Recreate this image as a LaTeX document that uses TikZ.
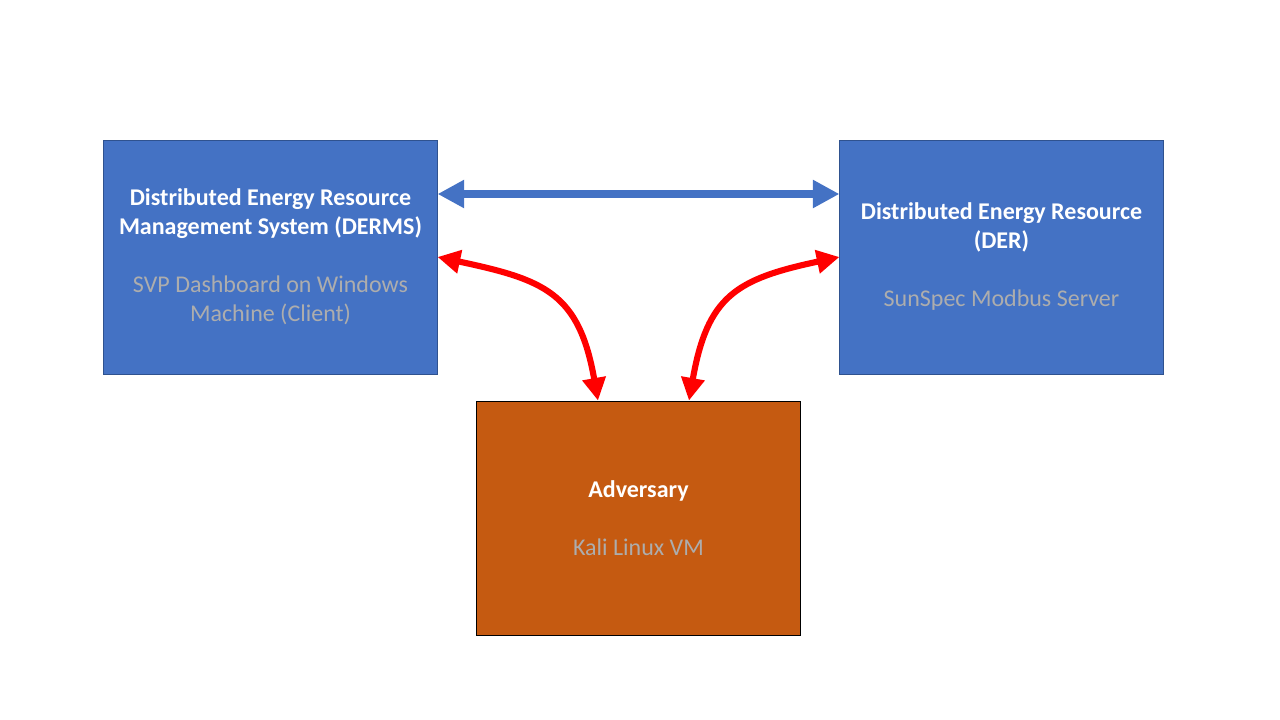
\documentclass[tikz,border=0pt]{standalone}
\usepackage{fontspec}
\setmainfont{Carlito}
\usepackage{tikz}
\usetikzlibrary{arrows.meta}
\usetikzlibrary{calc}

\definecolor{boxblue}{HTML}{4472C4}
\definecolor{boxedge}{HTML}{2F528F}
\definecolor{advorange}{HTML}{C55A11}
\definecolor{subgray}{HTML}{ADADAD}

\begin{document}
\begin{tikzpicture}[x=0.75pt,y=0.75pt,
        sysbox/.style={rectangle, fill=boxblue, draw=boxedge, line width=0.6pt, minimum height=175.5pt, align=center, font=\fontsize{18}{21.75}\selectfont, text=white, inner sep=0pt},
        advbox/.style={sysbox, fill=advorange, draw=black},
        linkblue/.style={draw=boxblue, line width=6pt, {Triangle[length=20pt,width=20pt]}-{Triangle[length=20pt,width=20pt]}},
        linkred/.style={draw=red, line width=4.6pt, {Triangle[length=17pt,width=17pt]}-{Triangle[length=17pt,width=17pt]}}]
        \useasboundingbox (0, 0) rectangle (1280, -720);
        \node[sysbox, minimum width=250pt] (derms) at (270.5, -257) {\textbf{Distributed Energy Resource}\\ \textbf{Management System (DERMS)}\\[21.75pt] \textcolor{subgray}{SVP Dashboard on Windows}\\ \textcolor{subgray}{Machine (Client)}};
        \node[sysbox, minimum width=242.5pt] (der) at (1001.5, -257) {\textbf{Distributed Energy Resource}\\ \textbf{(DER)}\\[21.75pt] \textcolor{subgray}{SunSpec Modbus Server}};
        \node[advbox, minimum width=242.5pt] (adv) at (638.5, -518) {\textbf{Adversary}\\[21.75pt] \textcolor{subgray}{Kali Linux VM}};
        %
        \draw[linkblue] ($(derms.east)+(0, 63)$) -- ($(der.west)+(0, 63)$);
        \draw[linkred] (derms.east) to[out=-12, in=100, looseness=1.3] ($(adv.north)+(-40.5, 0)$);
        \draw[linkred] (der.west) to[out=192, in=80, looseness=1.3] ($(adv.north)+(50.5, 0)$);
\end{tikzpicture}
\end{document}
